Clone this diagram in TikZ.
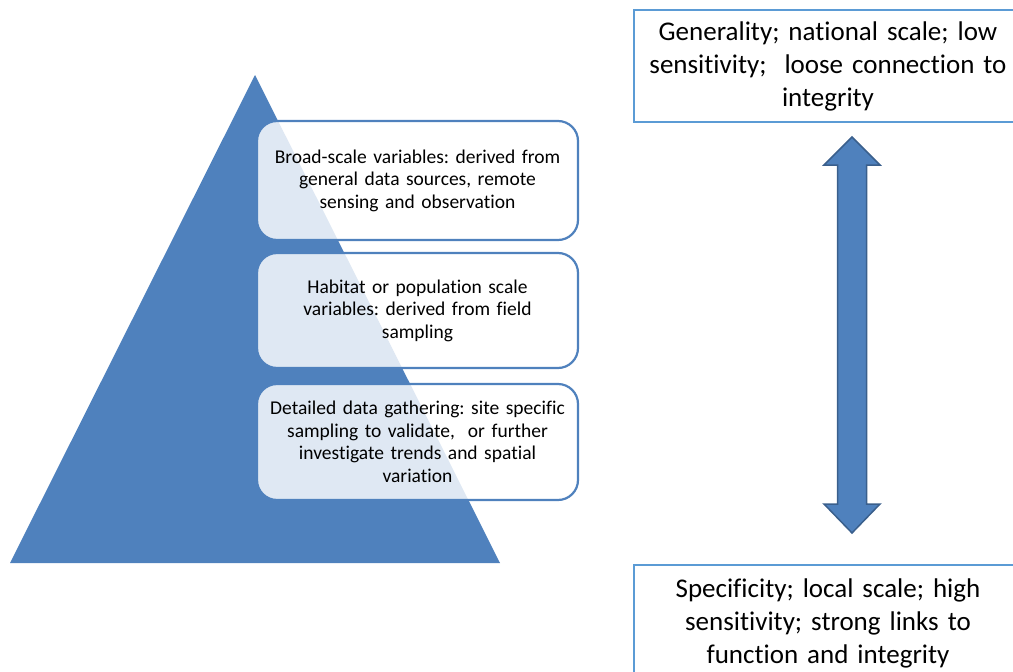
\documentclass[tikz,border=0pt]{standalone}
\usepackage{fontspec}
\setmainfont[RawFeature={-liga;-clig}]{Carlito}
\frenchspacing
\definecolor{pyrblue}{HTML}{4F81BD}
\definecolor{arrline}{HTML}{3A5F8C}
\definecolor{boxline}{HTML}{5B9BD5}
\begin{document}
\begin{tikzpicture}[x=1pt,y=-1pt,
  levelbox/.style={draw=pyrblue,line width=2.2pt,rounded corners=20pt,fill=white,fill opacity=0.82,text opacity=1,
    minimum width=321pt,align=center,text width=314pt,inner sep=3pt,font=\fontsize{19.5}{22.5}\selectfont},
  sidebox/.style={draw=boxline,line width=1.2pt,fill=white,align=center,text width=375pt,
    minimum width=388pt,inner sep=3pt,font=\fontsize{27}{33}\selectfont}]
\useasboundingbox (0,0) rectangle (1013,672);
% pyramid
\fill[pyrblue] (255,75) -- (500,563) -- (10,563) -- cycle;
% level boxes
\node[levelbox,minimum height=119pt] (b1) at (417.5,180.5) {Broad-scale variables: derived from\\general data sources, remote\\sensing and observation};
\node[levelbox,minimum height=115pt] (b2) at (417.5,310.5) {Habitat or population scale\\variables: derived from field\\sampling};
\node[levelbox,minimum height=116pt] (b3) at (417.5,442) {Detailed data gathering: site specific\\sampling to validate,\ \ or further\\investigate trends and spatial\\variation};
% side boxes
\node[sidebox,minimum height=112pt] (top) at (828,66) {Generality; national scale; low\\sensitivity;\ \ loose connection to\\integrity};
\node[sidebox,minimum height=116pt] (bot) at (828,623) {Specificity; local scale; high\\sensitivity; strong links to\\function and integrity};
% double arrow
\filldraw[fill=pyrblue,draw=arrline,line width=1.5pt,line join=miter]
  (852,137) -- (880,165) -- (866.5,165) -- (866.5,504) -- (880,504) -- (852,533)
  -- (824,504) -- (837.5,504) -- (837.5,165) -- (824,165) -- cycle;
\end{tikzpicture}
\end{document}
